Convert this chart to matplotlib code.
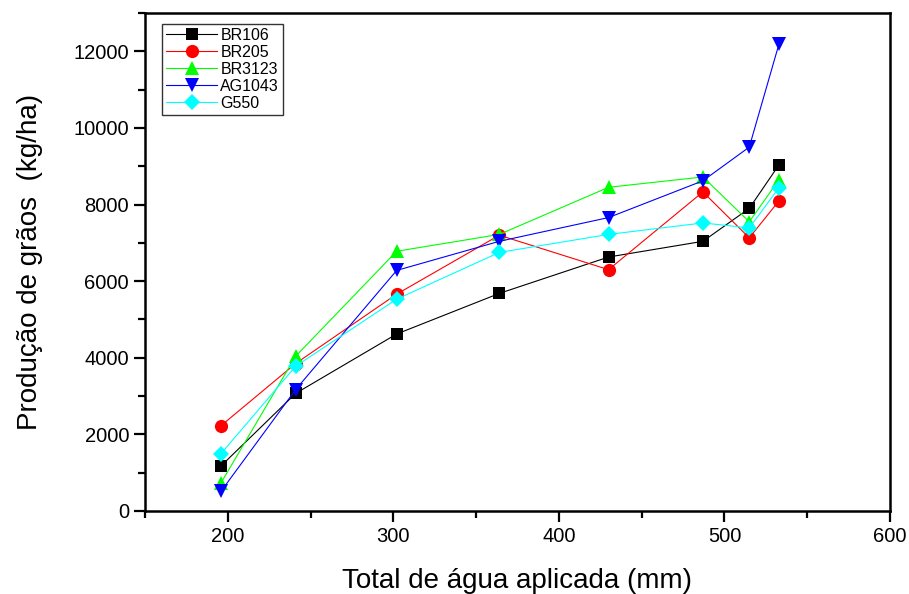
import numpy as np
import matplotlib.pyplot as plt
from matplotlib.ticker import MultipleLocator

plt.rcParams['font.family'] = ['Liberation Sans', 'DejaVu Sans']

agua = [196, 241, 302, 364, 430, 487, 515, 533]

br106 = [1180, 3070, 4620, 5680, 6630, 7040, 7900, 9040]
br205 = [2230, 3850, 5660, 7200, 6300, 8330, 7130, 8100]
br3123 = [740, 4040, 6780, 7220, 8450, 8720, 7550, 8650]
ag1043 = [520, 3170, 6280, 7040, 7660, 8620, 9500, 12200]
g550 = [1500, 3780, 5530, 6750, 7220, 7520, 7390, 8440]

series = [
    ('BR106', br106, 'black', 's', 8.5),
    ('BR205', br205, 'red', 'o', 9.5),
    ('BR3123', br3123, '#00ff00', '^', 10.5),
    ('AG1043', ag1043, 'blue', 'v', 10.5),
    ('G550', g550, 'cyan', 'D', 8.5),
]

fig = plt.figure(figsize=(9.09, 5.94), dpi=100)
ax = fig.add_axes([145 / 909, 1 - 511 / 594, (890 - 145) / 909, (511 - 13) / 594])

for nome, y, cor, mk, ms in series:
    ax.plot(agua, y, '-', marker=mk, color=cor, linewidth=0.8, markersize=ms,
            markeredgewidth=0, label=nome)

ax.set_xlim(150, 600)
ax.set_ylim(0, 13000)
ax.set_xticks([200, 300, 400, 500, 600])
ax.xaxis.set_minor_locator(MultipleLocator(50))
ax.yaxis.set_major_locator(MultipleLocator(2000))
ax.yaxis.set_minor_locator(MultipleLocator(1000))
ax.tick_params(axis='both', which='major', direction='out', length=8, width=1.6, labelsize=14.5)
ax.tick_params(axis='both', which='minor', direction='out', length=5, width=1.6)
ax.tick_params(top=False, right=False, which='both')
for s in ax.spines.values():
    s.set_linewidth(1.8)

ax.set_xlabel('Total de água aplicada (mm)', fontsize=20, labelpad=16)
ax.set_ylabel('Produção de grãos  (kg/ha)', fontsize=20, labelpad=22)

leg = ax.legend(loc='upper left', bbox_to_anchor=(0.023, 0.978), fontsize=11.5,
                frameon=True, fancybox=False, borderpad=0.25, labelspacing=0.12,
                handlelength=3.2, handletextpad=0.2, borderaxespad=0)
leg.get_frame().set_edgecolor('black')
leg.get_frame().set_linewidth(1.0)

plt.savefig('out.png', dpi=100)
